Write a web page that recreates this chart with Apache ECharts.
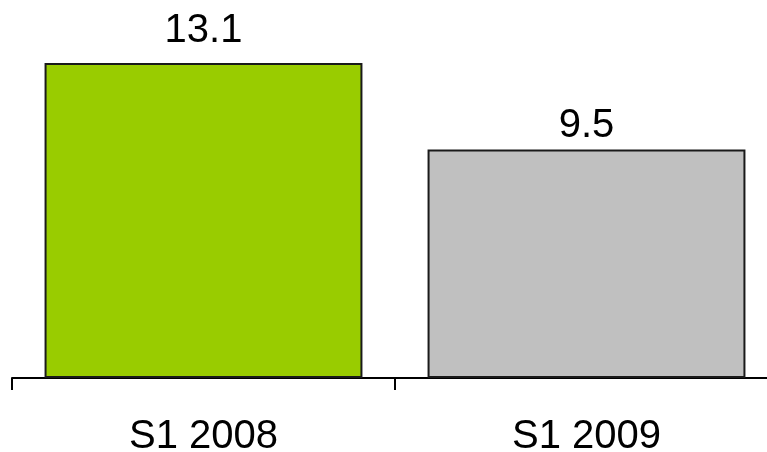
<!DOCTYPE html>
<html><head><meta charset="utf-8">
<script src="https://cdn.jsdelivr.net/npm/echarts@6/dist/echarts.min.js"></script>
<style>html,body{margin:0;padding:0;background:#fff}#c{width:767px;height:452px}</style>
</head><body><div id="c"></div>
<script>
const categories = ["S1 2008", "S1 2009"];
const values = [13.1, 9.5];
const barColors = ["#99CC00", "#C0C0C0"];
const labelGaps = [12, 4];

const chart = echarts.init(document.getElementById('c'));
chart.setOption({
  animation: false,
  backgroundColor: '#ffffff',
  grid: { left: 12, width: 766, top: 63, bottom: 74, containLabel: false, outerBoundsMode: 'none' },
  xAxis: {
    type: 'category',
    data: categories,
    axisLine: { lineStyle: { color: '#000', width: 2 } },
    axisTick: { show: true, length: 12, lineStyle: { color: '#000', width: 2 } },
    axisLabel: { fontFamily: 'Liberation Sans', fontSize: 40, color: '#000', margin: 39 }
  },
  yAxis: { type: 'value', min: 0, max: 13.1, show: false, splitLine: { show: false } },
  series: [{
    type: 'bar',
    barWidth: '83%',
    data: values.map((v, i) => ({ value: v, itemStyle: { color: barColors[i] }, label: { distance: labelGaps[i] } })),
    itemStyle: { borderColor: '#1a1a1a', borderWidth: 2 },
    label: { show: true, position: 'top', fontFamily: 'Liberation Sans', fontSize: 40, color: '#000' }
  }]
});
</script></body></html>
